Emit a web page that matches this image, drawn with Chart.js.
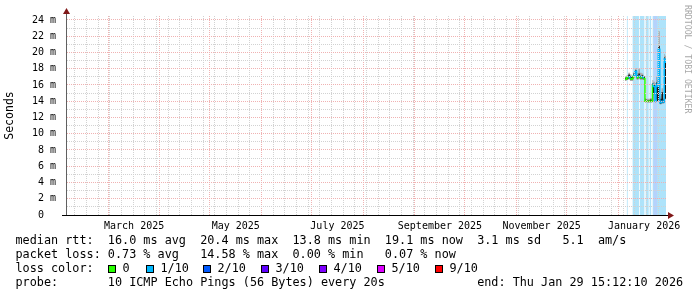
<!DOCTYPE html>
<html><head><meta charset="utf-8">
<script src="https://cdn.jsdelivr.net/npm/chart.js@4.4.1/dist/chart.umd.min.js"></script>
<style>
html,body{margin:0;padding:0;background:#fff;}
body{width:697px;height:297px;position:relative;overflow:hidden;}
#c{position:absolute;left:0;top:0;}
.row{position:absolute;left:15.5px;white-space:pre;font-family:'DejaVu Sans Mono',monospace;font-size:11.8px;line-height:13.7px;color:#000;}
.sq{position:absolute;width:8px;height:8px;box-sizing:border-box;border:1px solid #000;}
#wm{position:absolute;left:683px;top:5px;writing-mode:vertical-rl;font-family:'DejaVu Sans Mono',monospace;font-size:8.2px;line-height:10px;color:#a8a8a8;white-space:pre;}
</style></head><body>
<canvas id="c" width="697" height="297"></canvas>
<div id="legend"></div>
<div id="wm">RRDTOOL / TOBI OETIKER</div>
<script>
// ---------------- data ----------------
const endTime = '2026-01-29T15:12:10';
const spanDays = 360;

const sampleTimes = ['2026-01-05T00:00','2026-01-06T00:00','2026-01-07T00:00','2026-01-08T00:00','2026-01-09T00:00','2026-01-10T00:00','2026-01-11T00:00','2026-01-12T00:00','2026-01-13T00:00','2026-01-14T00:00','2026-01-15T00:00','2026-01-16T00:00','2026-01-17T00:00','2026-01-18T00:00','2026-01-19T00:00','2026-01-20T00:00','2026-01-21T00:00','2026-01-21T12:00','2026-01-22T00:00','2026-01-23T00:00','2026-01-23T15:00','2026-01-24T06:00','2026-01-25T00:00','2026-01-25T22:00','2026-01-26T22:00','2026-01-27T22:00','2026-01-28T14:00','2026-01-29T00:00','2026-01-29T15:12'];
const medianMs = [16.7,16.9,17.0,16.7,16.8,17.2,17.7,16.9,17.1,16.9,17.0,16.8,14.0,14.0,14.0,14.0,14.0,16.1,15.8,14.0,16.1,15.8,20.4,13.8,14.0,13.9,19.2,18.8,19.1];
const innerLoMs = [16.6,16.7,16.8,16.6,16.7,17.0,17.4,16.8,16.9,16.8,16.8,16.7,13.9,13.9,13.9,13.9,13.9,14.0,15.0,13.9,14.2,14.0,14.2,13.7,13.8,13.8,14.1,14.3,14.5];
const innerHiMs = [16.9,17.0,17.3,17.1,17.0,17.4,17.8,17.2,17.4,17.1,17.2,17.0,14.2,14.1,14.1,14.2,14.1,16.2,16.0,15.8,16.3,16.0,20.8,14.3,15.1,14.2,19.4,19.1,19.3];
const outerLoMs = [16.5,16.6,16.7,16.5,16.5,16.8,17.2,16.6,16.7,16.6,16.6,16.6,13.8,13.8,13.8,13.8,13.8,13.9,14.8,13.8,14.0,13.9,14.0,13.6,13.7,13.7,14.0,14.2,14.2];
const outerHiMs = [17.0,17.2,17.5,17.3,17.1,17.6,18.1,17.5,18.0,17.5,17.4,17.1,14.4,14.3,14.3,14.4,14.3,16.6,16.4,16.2,17.0,16.6,22.6,14.6,15.6,14.4,19.8,19.6,19.6];
const lossCount = [0,0,1,0,0,1,1,0,1,0,1,0,0,0,0,0,0,1,1,1,1,1,1,1,1,1,1,1,1];

const bandStart = ['2026-01-06T01:00','2026-01-09T15:00','2026-01-13T22:00','2026-01-17T10:00','2026-01-19T19:00','2026-01-21T15:00'];
const bandEnd   = ['2026-01-06T15:00','2026-01-13T10:00','2026-01-16T16:00','2026-01-19T06:00','2026-01-20T18:00','2026-01-29T15:12'];
const band2Start = ['2026-01-22T00:00'];
const band2End   = ['2026-01-24T10:00'];

const lossThresholds = [0,1,2,3,4,5,9];
const lossLabels = ['0','1/10','2/10','3/10','4/10','5/10','9/10'];
const lossColors = ['#26ff00','#00b8ff','#0059ff','#5e00ff','#7e00ff','#dd00ff','#ff0000'];

const xTickMonths = ['2025-03','2025-05','2025-07','2025-09','2025-11','2026-01'];
const xTickLabels = ['March 2025','May 2025','July 2025','September 2025','November 2025','January 2026'];
const yTickValues = [0,2,4,6,8,10,12,14,16,18,20,22,24];
const yTickLabels = ['0  ','2 m','4 m','6 m','8 m','10 m','12 m','14 m','16 m','18 m','20 m','22 m','24 m'];

const rttStats = [16.0, 20.4, 13.8, 19.1, 3.1]; // avg, max, min, now, sd
const amPerSec = 5.1;
const lossStats = [0.73, 14.58, 0.00, 0.07]; // avg, max, min, now
const probeText = '10 ICMP Echo Pings (56 Bytes) every 20s';
const endText = 'end: Thu Jan 29 15:12:10 2026';

// ---------------- setup ----------------
const DAY = 86400000;
const T = s => new Date(s).getTime();
const endMs = T(endTime);
const startMs = endMs - spanDays * DAY;
const yMax = 24.49;
const GRID_MAJOR = '#f0b2b2';
const GRID_MINOR = '#d2d2d2';

function lossColor(c){ let k = 0; lossThresholds.forEach((t,i)=>{ if (c >= t) k = i; }); return lossColors[k]; }
const pts = arr => sampleTimes.map((t,i)=>({x:T(t), y:arr[i]}));
function bandPts(starts, ends){ const p=[]; starts.forEach((s,i)=>{ p.push({x:T(s), y:yMax}); p.push({x:T(ends[i]), y:0}); }); return p; }

function xTicks(){
  const t = [];
  const d = new Date(startMs); d.setHours(0,0,0,0);
  while (d.getDay() !== 0) d.setDate(d.getDate()+1);
  for (; d.getTime() <= endMs; d.setDate(d.getDate()+7)) t.push({value:d.getTime(), kind:'week'});
  let m0 = new Date(startMs); let m = new Date(m0.getFullYear(), m0.getMonth()+1, 1);
  for (; m.getTime() <= endMs; m = new Date(m.getFullYear(), m.getMonth()+1, 1)) t.push({value:m.getTime(), kind:'month'});
  xTickMonths.forEach((s,i)=>{ const a = new Date(s+'-01T00:00'); const b = new Date(a.getFullYear(), a.getMonth()+1, 1);
    t.push({value:(a.getTime()+b.getTime())/2, kind:'label', lbl:xTickLabels[i]}); });
  t.sort((a,b)=>a.value-b.value);
  return t;
}
function yTicks(){ const t=[]; for (let v=0; v<=24; v++){ const k = yTickValues.indexOf(v); t.push({value:v, kind: k>=0?'major':'minor', lbl: k>=0?yTickLabels[k]:''}); } return t; }

const axisArrows = {
  id:'axisArrows',
  afterDraw(chart){
    const {ctx, chartArea:a} = chart;
    ctx.save();
    ctx.strokeStyle = '#000'; ctx.lineWidth = 1;
    ctx.beginPath(); ctx.moveTo(a.left-4, a.bottom+0.5); ctx.lineTo(a.right+3, a.bottom+0.5); ctx.stroke();
    ctx.strokeStyle = '#606060';
    ctx.beginPath(); ctx.moveTo(a.left+0.5, a.top+1); ctx.lineTo(a.left+0.5, a.top-3); ctx.stroke();
    ctx.fillStyle = '#801818';
    ctx.beginPath(); ctx.moveTo(a.right+2, a.bottom-3); ctx.lineTo(a.right+8, a.bottom+0.5); ctx.lineTo(a.right+2, a.bottom+4); ctx.closePath(); ctx.fill();
    ctx.beginPath(); ctx.moveTo(a.left-3, a.top-2); ctx.lineTo(a.left+0.5, a.top-8); ctx.lineTo(a.left+4, a.top-2); ctx.closePath(); ctx.fill();
    ctx.restore();
  }
};

const noLine = {borderColor:'rgba(0,0,0,0)', borderWidth:0, pointRadius:0, stepped:true};

new Chart(document.getElementById('c'), {
  type:'line',
  data:{ datasets:[
    {label:'median', data:pts(medianMs), stepped:true, borderWidth:1.5, pointRadius:0, order:0,
     segment:{borderColor: ctx => lossColor(lossCount[ctx.p0DataIndex])}, borderColor:lossColors[0], fill:false},
    Object.assign({label:'innerLo', data:pts(innerLoMs), fill:false, order:2}, noLine),
    Object.assign({label:'innerHi', data:pts(innerHiMs), fill:1, backgroundColor:'#1a1a1a', order:2}, noLine),
    Object.assign({label:'outerLo', data:pts(outerLoMs), fill:false, order:3}, noLine),
    Object.assign({label:'outerHi', data:pts(outerHiMs), fill:3, backgroundColor:'#aaaaaa', order:3}, noLine),
    Object.assign({label:'lossBand', data:bandPts(bandStart, bandEnd), fill:'origin', backgroundColor:'#aee3fa', order:5}, noLine),
    Object.assign({label:'lossBand2', data:bandPts(band2Start, band2End), fill:'origin', backgroundColor:'#b6d2fb', order:4}, noLine)
  ]},
  options:{
    responsive:false, animation:false, devicePixelRatio:1,
    layout:{padding:{left:0, right:31, top:15, bottom:0}},
    plugins:{legend:{display:false}, tooltip:{enabled:false}},
    scales:{
      x:{type:'linear', min:startMs, max:endMs, position:'bottom',
        afterBuildTicks: s => { s.ticks = xTicks(); },
        afterFit: s => { s.height = 82; },
        ticks:{autoSkip:false, maxRotation:0, minRotation:0, padding:5, color:'#000',
          font:{family:'DejaVu Sans Mono', size:10},
          callback:(v,i,ticks)=> ticks[i].lbl || ''},
        grid:{drawTicks:false, z:1, lineWidth:1,
          color: c => !c.tick ? 'rgba(0,0,0,0)' : c.tick.kind==='month' ? GRID_MAJOR : c.tick.kind==='week' ? GRID_MINOR : 'rgba(0,0,0,0)'},
        border:{display:true, color:'#000', width:1, dash:[1,1], z:2}
      },
      y:{type:'linear', min:0, max:yMax, position:'left',
        afterBuildTicks: s => { s.ticks = yTicks(); },
        afterFit: s => { s.width = 66; },
        ticks:{autoSkip:false, padding:10, color:'#000', font:{family:'DejaVu Sans Mono', size:10},
          callback:(v,i,ticks)=> ticks[i].lbl || ''},
        grid:{drawTicks:false, z:1, lineWidth:1,
          color: c => !c.tick || c.tick.value===0 ? 'rgba(0,0,0,0)' : c.tick.kind==='major' ? GRID_MAJOR : GRID_MINOR},
        border:{display:true, color:'#606060', width:1, dash:[1,1], z:2},
        title:{display:true, text:'Seconds', color:'#000', font:{family:'DejaVu Sans Mono', size:11.5}, padding:{top:3, bottom:0}}
      }
    }
  },
  plugins:[axisArrows]
});

// ---------------- legend text ----------------
function atCols(parts){ let s=''; parts.forEach(([col, txt])=>{ s = s.padEnd(col) + txt; }); return s; }
const f1 = v => v.toFixed(1), f2 = v => v.toFixed(2);
const rows = [
  atCols([[0,'median rtt:'],[13,f1(rttStats[0])+' ms avg'],[26,f1(rttStats[1])+' ms max'],[39,f1(rttStats[2])+' ms min'],[52,f1(rttStats[3])+' ms now'],[65,f1(rttStats[4])+' ms sd'],[77,f1(amPerSec)],[82,'am/s']]),
  atCols([[0,'packet loss:'],[13,f2(lossStats[0])+' % avg'],[26,f2(lossStats[1])+' % max'],[39,f2(lossStats[2])+' % min'],[52,f2(lossStats[3])+' % now']]),
  'loss color:',
  atCols([[0,'probe:'],[13,probeText],[65,endText]])
];
const legend = document.getElementById('legend');
const rowTop = [234.4, 248.1, 261.8, 275.5];
rows.forEach((r,i)=>{ const d=document.createElement('div'); d.className='row'; d.style.top=rowTop[i]+'px'; d.textContent=r; legend.appendChild(d); });
const sqX = [108, 146, 203, 261, 319, 377, 435];
lossLabels.forEach((lab,i)=>{
  const s=document.createElement('div'); s.className='sq'; s.style.left=sqX[i]+'px'; s.style.top='264.5px'; s.style.background=lossColors[i]; legend.appendChild(s);
  const t=document.createElement('div'); t.className='row'; t.style.left=(sqX[i]+14.5)+'px'; t.style.top=rowTop[2]+'px'; t.textContent=lab; legend.appendChild(t);
});
</script>
</body></html>
